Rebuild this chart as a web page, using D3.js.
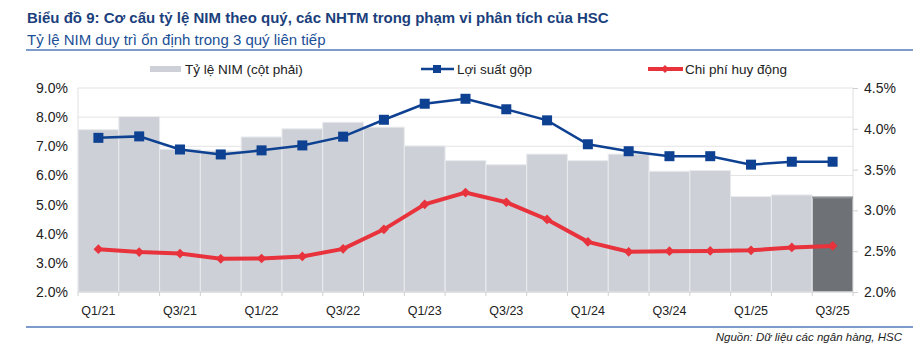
<!DOCTYPE html>
<html><head><meta charset="utf-8">
<script src="https://cdn.jsdelivr.net/npm/d3@7"></script>
<style>
html,body{margin:0;padding:0;background:#fff;}
svg{display:block;font-family:"Liberation Sans",Arial,sans-serif;}
</style></head>
<body><svg id="c" width="913" height="348"></svg>
<script>
const quarters = ["Q1/21","Q2/21","Q3/21","Q4/21","Q1/22","Q2/22","Q3/22","Q4/22","Q1/23","Q2/23","Q3/23","Q4/23","Q1/24","Q2/24","Q3/24","Q4/24","Q1/25","Q2/25","Q3/25"];
const nim = [3.99,4.15,3.75,3.73,3.90,4.00,4.08,4.02,3.79,3.61,3.56,3.69,3.61,3.69,3.48,3.49,3.17,3.19,3.17];
const grossYield = [7.29,7.34,6.89,6.72,6.86,7.03,7.33,7.91,8.46,8.63,8.27,7.89,7.07,6.83,6.66,6.66,6.37,6.47,6.47];
const fundingCost = [3.47,3.37,3.32,3.14,3.15,3.22,3.48,4.15,5.01,5.41,5.08,4.49,3.72,3.38,3.40,3.41,3.43,3.53,3.58];
const leftTicks = [2,3,4,5,6,7,8,9];
const rightTicks = [2.0,2.5,3.0,3.5,4.0,4.5];
const legendLabels = ["Tỷ lệ NIM (cột phải)","Lợi suất gộp","Chi phí huy động"];
const titleText = "Biểu đồ 9: Cơ cấu tỷ lệ NIM theo quý, các NHTM trong phạm vi phân tích của HSC";
const subtitleText = "Tỷ lệ NIM duy trì ổn định trong 3 quý liên tiếp";
const sourceText = "Nguồn: Dữ liệu các ngân hàng, HSC";

const svg = d3.select("#c");
const L = 78, R = 853, T = 88, B = 292;
const x = d3.scaleBand().domain(quarters).range([L, R]).padding(0);
const yL = d3.scaleLinear().domain([2, 9]).range([B, T]);
const yR = d3.scaleLinear().domain([2, 4.5]).range([B, T]);

// title
svg.append("text").attr("x", 27).attr("y", 23).attr("fill", "#1b3f7c")
  .style("font-weight", "bold").style("font-size", "15px").text(titleText);
svg.append("text").attr("x", 27).attr("y", 45).attr("fill", "#1b4f96")
  .style("font-size", "15px").text(subtitleText);
svg.append("line").attr("x1", 26).attr("x2", 913).attr("y1", 50).attr("y2", 50)
  .attr("stroke", "#7d9ccb").attr("stroke-width", 2);

// gridlines
svg.append("g").selectAll("line").data(leftTicks).join("line")
  .attr("x1", L).attr("x2", R).attr("y1", d => yL(d)).attr("y2", d => yL(d))
  .attr("stroke", "#e3e3e3").attr("stroke-width", 1);
svg.append("g").selectAll("line").data([L, R]).join("line")
  .attr("x1", d => d).attr("x2", d => d).attr("y1", T).attr("y2", B)
  .attr("stroke", "#e0e0e0");

// bars
svg.append("g").selectAll("rect").data(nim).join("rect")
  .attr("x", (d, i) => x(quarters[i]))
  .attr("width", x.bandwidth())
  .attr("y", d => yR(d))
  .attr("height", d => B - yR(d))
  .attr("fill", (d, i) => i === nim.length - 1 ? "#6e7175" : "#cdd1d7")
  .attr("stroke", "#e9ebee").attr("stroke-width", 1);
// top edge of last bar
svg.append("line")
  .attr("x1", x(quarters[quarters.length-1])).attr("x2", x(quarters[quarters.length-1]) + x.bandwidth())
  .attr("y1", yR(nim[nim.length-1]) + 1).attr("y2", yR(nim[nim.length-1]) + 1)
  .attr("stroke", "#8c8f93").attr("stroke-width", 2);

// x axis baseline and ticks at band boundaries
svg.append("line").attr("x1", L).attr("x2", R).attr("y1", B).attr("y2", B).attr("stroke", "#d6d6d6");
const bounds = quarters.map(q => x(q)).concat([R]);
svg.append("g").selectAll("line").data(bounds).join("line")
  .attr("x1", d => d).attr("x2", d => d).attr("y1", B).attr("y2", B + 4).attr("stroke", "#d0d0d0");

const xAxis = d3.axisBottom(x).tickSize(0).tickPadding(14)
  .tickFormat((d, i) => i % 2 === 0 ? d : "");
const gx = svg.append("g").attr("transform", `translate(0,${B})`).call(xAxis);
gx.select(".domain").remove();
gx.selectAll("text").style("font-size", "12.5px").attr("fill", "#222").style("font-family", "'Liberation Sans',Arial,sans-serif");

const yAxisL = d3.axisLeft(yL).tickValues(leftTicks).tickSize(0).tickPadding(10)
  .tickFormat(d => d3.format(".1f")(d) + "%");
const gyl = svg.append("g").attr("transform", `translate(${L},0)`).call(yAxisL);
gyl.select(".domain").remove();
gyl.selectAll("text").style("font-size", "14px").attr("fill", "#222").style("font-family", "'Liberation Sans',Arial,sans-serif");

const yAxisR = d3.axisRight(yR).tickValues(rightTicks).tickSize(5).tickPadding(6)
  .tickFormat(d => d3.format(".1f")(d) + "%");
const gyr = svg.append("g").attr("transform", `translate(${R},0)`).call(yAxisR);
gyr.select(".domain").remove();
gyr.selectAll("line").attr("stroke", "#d0d0d0");
gyr.selectAll("text").style("font-size", "14px").attr("fill", "#222").style("font-family", "'Liberation Sans',Arial,sans-serif");

const cx = i => x(quarters[i]) + x.bandwidth() / 2;

// gross yield line
const blue = "#0e4191";
svg.append("path").datum(grossYield)
  .attr("d", d3.line().x((d, i) => cx(i)).y(d => yL(d)))
  .attr("fill", "none").attr("stroke", blue).attr("stroke-width", 2.5);
svg.append("g").selectAll("rect").data(grossYield).join("rect")
  .attr("x", (d, i) => cx(i) - 5).attr("y", d => yL(d) - 5)
  .attr("width", 10).attr("height", 10).attr("fill", blue);

// funding cost line
const red = "#e8323c";
svg.append("path").datum(fundingCost)
  .attr("d", d3.line().x((d, i) => cx(i)).y(d => yL(d)))
  .attr("fill", "none").attr("stroke", red).attr("stroke-width", 4);
svg.append("g").selectAll("path.m").data(fundingCost).join("path")
  .attr("d", d3.symbol(d3.symbolDiamond2, 60))
  .attr("transform", (d, i) => `translate(${cx(i)},${yL(d)})`)
  .attr("fill", red);

// legend
const lg = svg.append("g").style("font-size", "13.5px");
lg.append("rect").attr("x", 150).attr("y", 66).attr("width", 31).attr("height", 6).attr("fill", "#cdd1d7");
lg.append("text").attr("x", 185).attr("y", 74).attr("fill", "#222").text(legendLabels[0]);
lg.append("line").attr("x1", 421).attr("x2", 454).attr("y1", 69).attr("y2", 69).attr("stroke", blue).attr("stroke-width", 2.5);
lg.append("rect").attr("x", 433).attr("y", 65).attr("width", 8).attr("height", 8).attr("fill", blue);
lg.append("text").attr("x", 457).attr("y", 74).attr("fill", "#222").text(legendLabels[1]);
lg.append("line").attr("x1", 648).attr("x2", 683).attr("y1", 69).attr("y2", 69).attr("stroke", red).attr("stroke-width", 4);
lg.append("path").attr("d", d3.symbol(d3.symbolDiamond2, 40)).attr("transform", "translate(665,69)").attr("fill", red);
lg.append("text").attr("x", 685).attr("y", 74).attr("fill", "#222").text(legendLabels[2]);

// bottom line and source
svg.append("line").attr("x1", 26).attr("x2", 913).attr("y1", 327).attr("y2", 327)
  .attr("stroke", "#7d9ccb").attr("stroke-width", 2);
svg.append("text").attr("x", 902).attr("y", 341).attr("text-anchor", "end")
  .style("font-size", "11.5px").style("font-style", "italic").attr("fill", "#222").text(sourceText);
</script></body></html>
